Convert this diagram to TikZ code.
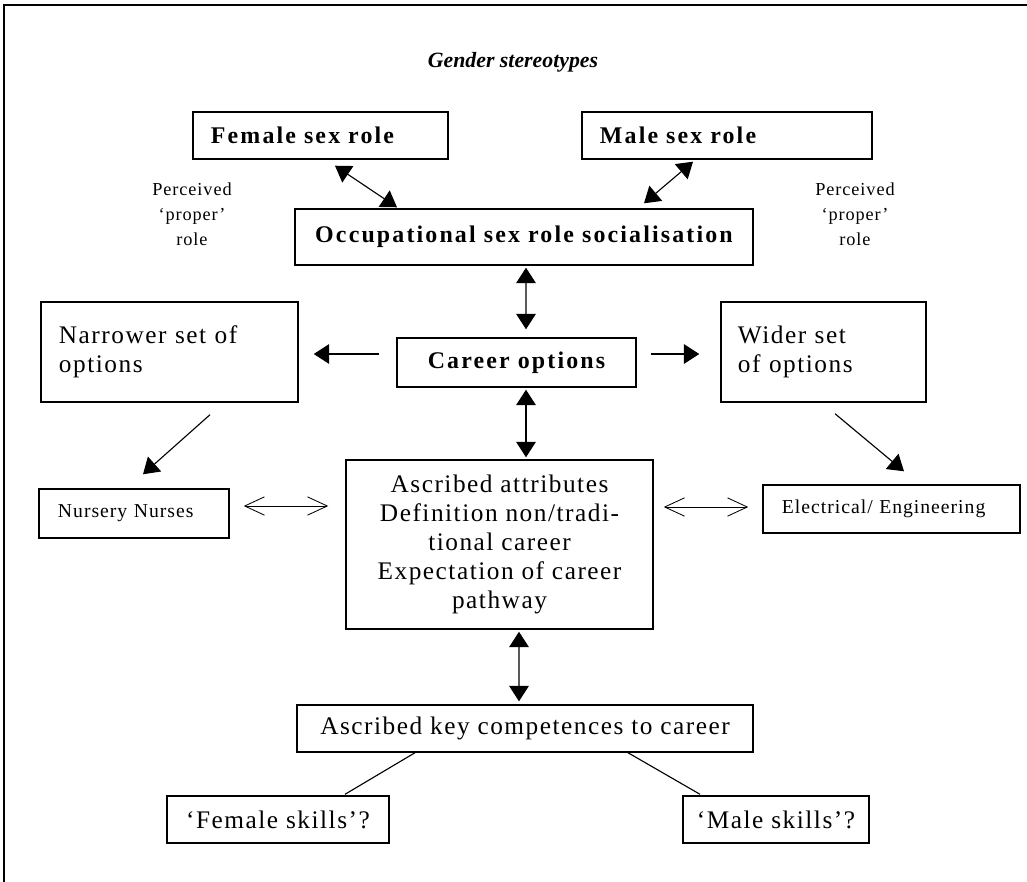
\documentclass[tikz,border=0pt]{standalone}
\usepackage{fontspec}
\setmainfont{Liberation Serif}[LetterSpace=6]
\newfontfamily\headfont{Liberation Serif}
\newfontfamily\widefont{Liberation Serif}[LetterSpace=9]
\newfontfamily\smallfont{Liberation Serif}[LetterSpace=5]
\usetikzlibrary{arrows.meta, calc}

\begin{document}
\begin{tikzpicture}[x=0.025cm, y=-0.025cm, line width=0.8pt,
    >={Triangle[length=11pt, width=14pt]},
    box/.style={draw, line width=1pt, inner sep=0pt, font=\fontsize{18}{20.6}\selectfont},
    boldbox/.style={box, font=\widefont\bfseries\fontsize{17}{19}\selectfont},
    smallbox/.style={box, font=\smallfont\fontsize{14}{16}\selectfont},
    note/.style={align=center, inner sep=0pt, font=\smallfont\fontsize{13}{17.8}\selectfont},
    hollow/.style={{Straight Barb[length=14pt, width=13pt]}-{Straight Barb[length=14pt, width=13pt]}, line width=0.6pt}]
    \useasboundingbox (0,0) rectangle (1027,882);
    \draw[line width=1.2pt] (4,882) -- (4,5) -- (1027,5);

    \node[font=\headfont\bfseries\itshape\fontsize{15.5}{19}\selectfont] (title) at (513,62) {Gender stereotypes};
    \node[boldbox, minimum width=6.375cm, minimum height=1.175cm, text width=5.475cm, inner xsep=0.45cm, align=left] (female) at (320.5,135.5) {Female sex role};
    \node[boldbox, minimum width=7.25cm, minimum height=1.175cm, text width=6.35cm, inner xsep=0.45cm, align=left] (male) at (727,135.5) {Male sex role};
    \node[note] (percl) at (192,214) {Perceived\\‘proper’\\role};
    \node[note] (percr) at (855,214) {Perceived\\‘proper’\\role};
    \node[boldbox, minimum width=11.45cm, minimum height=1.4cm] (occ) at (524,237) {Occupational sex role socialisation};
    \node[boldbox, minimum width=5.975cm, minimum height=1.225cm] (career) at (516.5,362.5) {Career options};
    \node[box, minimum width=6.425cm, minimum height=2.5cm, text width=5.525cm, inner xsep=0.45cm, align=left] (narrow) at (169.5,352) {Narrower set of\\options};
    \node[box, minimum width=5.125cm, minimum height=2.5cm, text width=4.275cm, inner xsep=0.425cm, align=left] (wide) at (823.5,352) {Wider set\\of options};
    \node[smallbox, minimum width=4.75cm, minimum height=1.225cm, text width=3.8cm, inner xsep=0.475cm, align=left] (nursery) at (134,513.5) {Nursery Nurses};
    \node[box, minimum width=7.675cm, minimum height=4.225cm, align=center] (ascribed) at (499.5,544.5) {Ascribed attributes\\Definition non/tradi-\\tional career\\Expectation of career\\pathway};
    \node[smallbox, minimum width=6.425cm, minimum height=1.2cm, text width=5.475cm, inner xsep=0.475cm, align=left] (electric) at (891.5,509) {Electrical/ Engineering};
    \node[box, minimum width=11.4cm, minimum height=1.175cm] (compet) at (525,728.5) {Ascribed key competences to career};
    \node[box, minimum width=5.55cm, minimum height=1.175cm] (femskills) at (278,819.5) {‘Female skills’?};
    \node[box, minimum width=4.65cm, minimum height=1.175cm] (maleskills) at (776,819.5) {‘Male skills’?};

    \draw[<->] ($(female.south)+(14.5,6)$) -- ($(occ.north)+(-127,-1)$);
    \draw[<->] ($(male.south)+(-34,2)$) -- ($(occ.north)+(120,-5)$);
    \draw[<->] ($(occ.south)+(2,2)$) -- ($(career.north)+(9.5,-8)$);
    \draw[->] ($(career.west)+(-17,-8.5)$) -- ($(narrow.east)+(15,2)$);
    \draw[->] ($(career.east)+(14,-8.5)$) -- ($(wide.west)+(-21,2)$);
    \draw[<->] ($(career.south)+(9.5,2)$) -- ($(ascribed.north)+(26.5,-2)$);
    \draw[->] ($(narrow.south)+(40.5,12)$) -- ($(nursery.north)+(9,-14)$);
    \draw[->] ($(wide.south)+(11.5,11)$) -- ($(electric.north)+(12.5,-13)$);
    \draw[hollow] ($(nursery.east)+(14,-7.5)$) -- ($(ascribed.west)+(-17,-38.5)$);
    \draw[hollow] ($(ascribed.east)+(10,-37.5)$) -- ($(electric.west)+(-14,-2)$);
    \draw[<->] ($(ascribed.south)+(19.5,2)$) -- ($(compet.north)+(-6,-3)$);
    \draw ($(compet.south)+(-110,0)$) -- ($(femskills.north)+(67,-1)$);
    \draw ($(compet.south)+(103,0)$) -- ($(maleskills.north)+(-76,-1)$);
\end{tikzpicture}
\end{document}
